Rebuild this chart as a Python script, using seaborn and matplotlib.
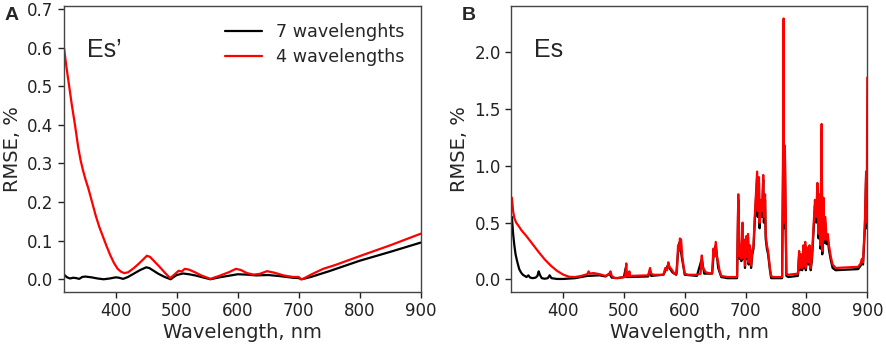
import numpy as np
import pandas as pd
import matplotlib
matplotlib.use("Agg")
import matplotlib.pyplot as plt
import seaborn as sns

# ---------------- Panel A: Es' ----------------
a_wl_7 = [315, 320, 325, 330, 335, 340, 345, 350, 355, 360, 370, 380, 390, 400, 405, 412,
          420, 430, 440, 450, 455, 460, 470, 480, 490, 495, 500, 510, 520, 530, 540, 555,
          570, 585, 600, 615, 630, 650, 670, 690, 700, 705, 720, 750, 800, 850, 900]
a_val_7 = [0.012, 0.005, 0.002, 0.004, 0.003, 0.001, 0.006, 0.007, 0.006, 0.005, 0.002, 0.000,
           0.002, 0.005, 0.004, 0.001, 0.006, 0.015, 0.024, 0.031, 0.029, 0.024, 0.014, 0.006,
           0.000, 0.006, 0.011, 0.015, 0.013, 0.010, 0.006, 0.000, 0.005, 0.009, 0.013, 0.012,
           0.010, 0.011, 0.008, 0.004, 0.003, 0.000, 0.006, 0.021, 0.048, 0.071, 0.095]

a_wl_4 = [315, 319, 323.5, 328, 333, 338, 342, 346, 350, 355, 361, 367, 373, 379, 385, 391,
          397, 403, 409, 414, 420, 428, 436, 444, 451, 456, 464, 473, 481, 489, 493, 498,
          503, 508, 513, 520, 530, 540, 555, 570, 585, 597, 605, 615, 626, 636, 648, 660,
          675, 690, 700, 703, 707, 720, 740, 760, 800, 850, 900]
a_val_4 = [0.600, 0.550, 0.500, 0.450, 0.400, 0.345, 0.310, 0.283, 0.260, 0.235, 0.200, 0.165,
           0.135, 0.110, 0.085, 0.062, 0.042, 0.027, 0.019, 0.016, 0.018, 0.027, 0.038, 0.050,
           0.061, 0.058, 0.045, 0.030, 0.016, 0.003, 0.008, 0.015, 0.022, 0.020, 0.027, 0.025,
           0.018, 0.010, 0.001, 0.009, 0.018, 0.027, 0.024, 0.016, 0.012, 0.014, 0.021, 0.017,
           0.010, 0.006, 0.006, 0.000, 0.001, 0.012, 0.027, 0.037, 0.060, 0.088, 0.118]

# ---------------- Panel B: Es ----------------
b_wl_7 = [316, 318, 320, 322, 325, 328, 331, 334, 337, 340, 343, 346, 350, 355, 358, 360,
          362, 365, 370, 375, 378, 381, 390, 400, 420, 440, 460, 470, 476, 480, 490, 500,
          503, 505, 540, 542, 545, 565, 572, 580, 586, 590, 592, 595, 600, 620, 628, 632,
          645, 648, 651, 655, 660, 670,
          686, 688, 690, 692, 693, 695, 696, 698, 699, 701, 702, 704, 705, 707, 709, 711,
          713, 715, 717, 719, 720, 722, 723, 725, 727, 729, 730, 732, 733, 735, 737, 740,
          742, 745, 760, 761.5, 762.5, 763.2, 764.5, 766, 767, 770, 786, 788, 789, 791, 793,
          795, 796, 798, 799, 801, 803, 805, 807, 809, 812, 814, 816, 818, 820, 822, 823,
          825, 826, 828, 829, 831, 833, 835, 837, 840, 843, 848, 885, 889, 891, 893, 896,
          898, 899, 900]
b_val_7 = [0.55, 0.40, 0.30, 0.22, 0.15, 0.09, 0.06, 0.04, 0.03, 0.02, 0.035, 0.015, 0.01,
           0.015, 0.03, 0.07, 0.04, 0.01, 0.005, 0.01, 0.035, 0.01, 0.003, 0.003, 0.01, 0.03,
           0.035, 0.025, 0.05, 0.015, 0.01, 0.02, 0.10, 0.02, 0.025, 0.07, 0.03, 0.04, 0.12,
           0.06, 0.04, 0.30, 0.33, 0.20, 0.04, 0.03, 0.18, 0.05, 0.05, 0.25, 0.30, 0.10, 0.02,
           0.01,
           0.01, 0.70, 0.18, 0.28, 0.16, 0.46, 0.18, 0.32, 0.10, 0.35, 0.18, 0.37, 0.13, 0.27,
           0.10, 0.22, 0.27, 0.50, 0.70, 0.90, 0.55, 0.85, 0.45, 0.65, 0.55, 0.88, 0.50, 0.70,
           0.36, 0.27, 0.22, 0.08, 0.01, 0.01, 0.01, 0.95, 2.20, 0.45, 1.12, 0.40, 0.03, 0.02,
           0.03, 0.22, 0.08, 0.19, 0.08, 0.27, 0.10, 0.30, 0.08, 0.25, 0.13, 0.27, 0.08, 0.17,
           0.46, 0.65, 0.50, 0.80, 0.36, 0.70, 0.27, 1.30, 0.22, 0.68, 0.32, 0.50, 0.31, 0.36,
           0.26, 0.17, 0.10, 0.08, 0.09, 0.12, 0.15, 0.13, 0.45, 0.90, 0.45, 0.47]

b_wl_4 = [316, 318, 320, 323, 327, 332, 340, 350, 360, 370, 380, 390, 400, 410, 420, 430,
          440, 442, 444, 450, 460, 470, 476, 478, 480, 485, 495, 502, 504, 505, 508, 509,
          510, 540, 543, 545, 548, 565, 568, 571, 573, 575, 578, 583, 587, 589, 591, 592,
          594, 596, 598, 600, 605, 620, 626, 628, 630, 635, 645, 647, 649, 651, 653, 655,
          657, 660, 670, 686, 688, 690, 692, 693, 695, 696, 698, 699, 701, 702, 704, 705,
          707, 709, 711, 713, 715, 717, 719, 720, 722, 723, 725, 727, 729, 730, 732, 733,
          735, 737, 740, 742, 745, 760, 761.5, 762.5, 763.2, 764.5, 766, 767, 770, 786, 788,
          789, 791, 793, 795, 796, 798, 799, 801, 803, 805, 807, 809, 812, 814, 816, 818,
          820, 822, 823, 825, 826, 828, 829, 831, 833, 835, 837, 840, 843, 848, 885, 889,
          891, 893, 896, 898, 899, 900]
b_val_4 = [0.72, 0.60, 0.54, 0.50, 0.47, 0.43, 0.38, 0.31, 0.24, 0.175, 0.12, 0.075, 0.042,
           0.022, 0.02, 0.03, 0.045, 0.07, 0.05, 0.055, 0.045, 0.03, 0.045, 0.07, 0.03, 0.01,
           0.015, 0.02, 0.14, 0.03, 0.03, 0.07, 0.03, 0.035, 0.10, 0.05, 0.04, 0.04, 0.10,
           0.08, 0.15, 0.11, 0.09, 0.05, 0.05, 0.30, 0.25, 0.36, 0.35, 0.20, 0.12, 0.05, 0.04,
           0.04, 0.05, 0.21, 0.10, 0.06, 0.05, 0.27, 0.20, 0.33, 0.20, 0.15, 0.08, 0.03, 0.02,
           0.02, 0.75, 0.20, 0.30, 0.18, 0.50, 0.20, 0.35, 0.12, 0.38, 0.20, 0.40, 0.15, 0.30,
           0.12, 0.25, 0.30, 0.55, 0.75, 0.95, 0.60, 0.90, 0.50, 0.70, 0.60, 0.92, 0.55, 0.75,
           0.40, 0.30, 0.25, 0.10, 0.03, 0.02, 0.02, 1.00, 2.30, 0.50, 1.18, 0.45, 0.05, 0.04,
           0.05, 0.25, 0.10, 0.22, 0.10, 0.30, 0.12, 0.33, 0.10, 0.28, 0.15, 0.30, 0.10, 0.20,
           0.50, 0.70, 0.55, 0.85, 0.40, 0.75, 0.30, 1.37, 0.25, 0.72, 0.35, 0.55, 0.35, 0.40,
           0.30, 0.20, 0.13, 0.10, 0.11, 0.14, 0.18, 0.15, 0.50, 0.95, 0.50, 1.78]

label_7 = "7 wavelenghts"
label_4 = "4 wavelengths"

sns.set_style("ticks")
plt.rcParams["font.family"] = ["DejaVu Sans"]

fig = plt.figure(figsize=(8.86, 3.46), dpi=100)
W, H = 886, 346
axA = fig.add_axes([64 / W, (H - 292) / H, (420.7 - 64) / W, (292 - 6) / H])
axB = fig.add_axes([511.3 / W, (H - 292) / H, (867.3 - 511.3) / W, (292 - 6) / H])

dfA7 = pd.DataFrame({"wl": a_wl_7, "v": a_val_7})
dfA4 = pd.DataFrame({"wl": a_wl_4, "v": a_val_4})
dfB7 = pd.DataFrame({"wl": b_wl_7, "v": b_val_7})
dfB4 = pd.DataFrame({"wl": b_wl_4, "v": b_val_4})

sns.lineplot(data=dfA7, x="wl", y="v", ax=axA, color="black", lw=1.6, label=label_7, estimator=None)
sns.lineplot(data=dfA4, x="wl", y="v", ax=axA, color="red", lw=1.6, label=label_4, estimator=None)
sns.lineplot(data=dfB7, x="wl", y="v", ax=axB, color="black", lw=1.6, estimator=None)
sns.lineplot(data=dfB4, x="wl", y="v", ax=axB, color="red", lw=1.6, estimator=None)

for ax in (axA, axB):
    ax.set_xlim(315, 900)
    ax.set_xticks([400, 500, 600, 700, 800, 900])
    ax.set_xlabel("Wavelength, nm", fontsize=14, labelpad=2)
    ax.set_ylabel("RMSE, %", fontsize=14, labelpad=4)
    ax.tick_params(labelsize=12, length=4, width=1, colors="#222222")
    for s in ax.spines.values():
        s.set_color("#444444")
        s.set_linewidth(1.0)

axA.set_ylim(-0.033, 0.708)
axA.set_yticks([0.0, 0.1, 0.2, 0.3, 0.4, 0.5, 0.6, 0.7])
axA.set_yticklabels(["0.0", "0.1", "0.2", "0.3", "0.4", "0.5", "0.6", "0.7"])
axB.set_ylim(-0.112, 2.41)
axB.set_yticks([0.0, 0.5, 1.0, 1.5, 2.0])
axB.set_yticklabels(["0.0", "0.5", "1.0", "1.5", "2.0"])

axA.legend(loc="upper right", frameon=False, fontsize=12.6, handlelength=2.1,
           handletextpad=0.8, borderaxespad=0.55, labelspacing=0.45)

axA.text(0.065, 0.82, "Es’", transform=axA.transAxes, fontsize=18,
         family=["Liberation Sans", "DejaVu Sans"])
axB.text(0.065, 0.82, "Es", transform=axB.transAxes, fontsize=18,
         family=["Liberation Sans", "DejaVu Sans"])
fig.text(5 / W, 1 - 20 / H, "A", fontsize=14, fontweight="bold",
         family=["Liberation Sans", "DejaVu Sans"])
fig.text(462 / W, 1 - 20 / H, "B", fontsize=14, fontweight="bold",
         family=["Liberation Sans", "DejaVu Sans"])

fig.savefig("out.png", dpi=100)
